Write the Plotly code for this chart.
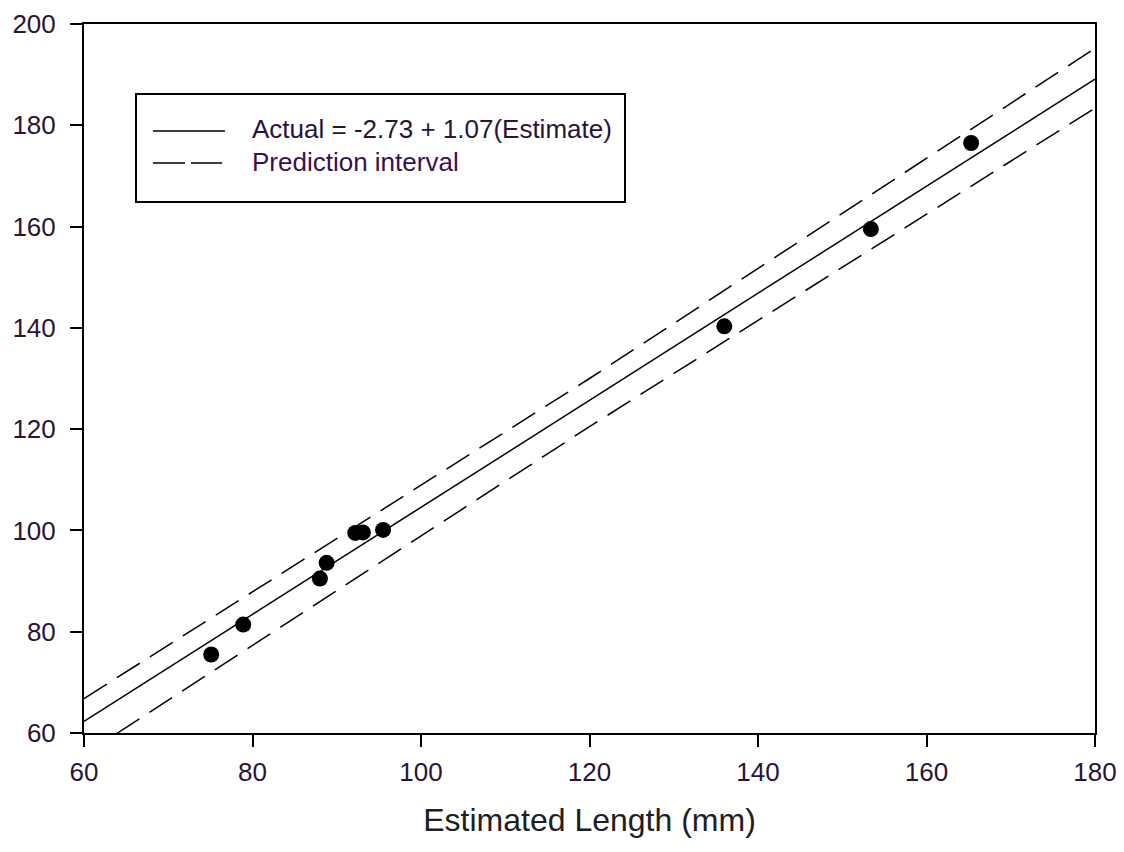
import plotly.graph_objects as go

# ---- data ----
est_x = [75.1, 78.9, 88.0, 88.8, 92.2, 93.1, 95.5, 136.0, 153.4, 165.3]
act_y = [75.5, 81.4, 90.5, 93.6, 99.5, 99.6, 100.1, 140.3, 159.5, 176.5]

fit_x = [60, 180]
fit_y = [62.3, 189.1]

pi_x = [60, 120, 180]
pi_upper = [66.8, 130.0, 195.2]
pi_lower = [55.7, 120.5, 183.4]

x_ticks = [60, 80, 100, 120, 140, 160, 180]
y_ticks = [60, 80, 100, 120, 140, 160, 180, 200]

legend_labels = ["Actual = -2.73 + 1.07(Estimate)", "Prediction interval"]

FONT = "Liberation Sans, Arial, sans-serif"
TXT = "#2a1436"

fig = go.Figure()

fig.add_trace(go.Scatter(x=fit_x, y=fit_y, mode="lines",
                         line=dict(color="black", width=1.5), showlegend=False))
fig.add_trace(go.Scatter(x=pi_x, y=pi_upper, mode="lines",
                         line=dict(color="black", width=1.5, dash="27px,12px"), showlegend=False))
fig.add_trace(go.Scatter(x=pi_x, y=pi_lower, mode="lines",
                         line=dict(color="black", width=1.5, dash="27px,12px"), showlegend=False))
fig.add_trace(go.Scatter(x=est_x, y=act_y, mode="markers",
                         marker=dict(color="black", size=16, line=dict(width=0)),
                         showlegend=False))

# plot area in window pixels: x 84..1095, y 24..733 (page body has an 8px margin)
OFF = 8
L, R, T, B = 84, 1095, 24, 733
def px(xp):
    return (xp - L) / (R - L)
def py(yp):
    return 1 - (yp - T) / (B - T)

# manual legend box
fig.add_shape(type="rect", xref="paper", yref="paper",
              x0=px(136), x1=px(625), y0=py(202), y1=py(94),
              line=dict(color="black", width=2), fillcolor="white", layer="above")
fig.add_shape(type="line", xref="paper", yref="paper",
              x0=px(153), x1=px(225), y0=py(131), y1=py(131),
              line=dict(color="black", width=1.5), layer="above")
fig.add_shape(type="line", xref="paper", yref="paper",
              x0=px(153), x1=px(222), y0=py(163), y1=py(163),
              line=dict(color="black", width=1.5, dash="32px,6px"), layer="above")
fig.add_annotation(xref="paper", yref="paper", x=px(250), y=py(129),
                   text=legend_labels[0], showarrow=False, xanchor="left", yanchor="middle",
                   font=dict(family=FONT, size=26, color=TXT))
fig.add_annotation(xref="paper", yref="paper", x=px(250), y=py(162),
                   text=legend_labels[1], showarrow=False, xanchor="left", yanchor="middle",
                   font=dict(family=FONT, size=26, color="#3a1050"))

axis_common = dict(showgrid=False, zeroline=False, showline=True, linecolor="black",
                   linewidth=2, mirror=True, ticks="outside", ticklen=12, tickwidth=2,
                   tickcolor="black", tickfont=dict(family=FONT, size=26, color=TXT))

fig.update_xaxes(range=[60, 180], tickvals=x_ticks, ticktext=[str(v) for v in x_ticks],
                 ticklabelstandoff=3,
                 title=dict(text="Estimated Length (mm)",
                            font=dict(family=FONT, size=32, color="#202020"), standoff=22),
                 **axis_common)
fig.update_yaxes(range=[60, 200], tickvals=y_ticks, ticktext=[str(v) for v in y_ticks],
                 ticklabelstandoff=9, **axis_common)

fig.update_layout(width=1124, height=852,
                  margin=dict(l=L - OFF, r=1124 - (R - OFF), t=T - OFF, b=852 - (B - OFF),
                              autoexpand=False),
                  plot_bgcolor="white", paper_bgcolor="white", showlegend=False)

fig.write_html("out.html")
